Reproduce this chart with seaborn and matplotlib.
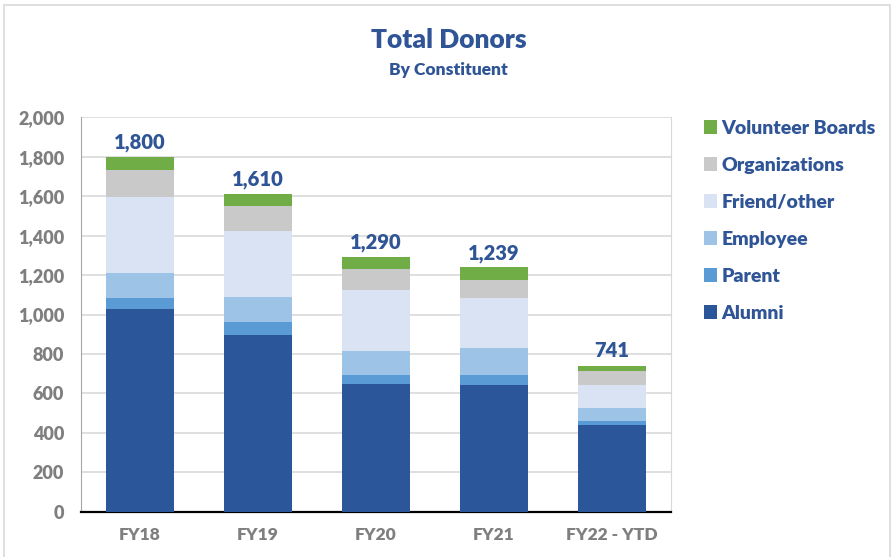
import pandas as pd
import matplotlib.pyplot as plt
import seaborn as sns
from matplotlib.patches import Rectangle, Patch

# Data
years = ['FY18', 'FY19', 'FY20', 'FY21', 'FY22 - YTD']
alumni = [1030, 896, 649, 644, 440]
parent = [55, 64, 42, 51, 20]
employee = [125, 130, 126, 135, 64]
friend_other = [385, 335, 307, 255, 120]
organizations = [140, 125, 105, 90, 72]
volunteer_boards = [65, 60, 61, 64, 25]
totals = [1800, 1610, 1290, 1239, 741]

groups = ['Alumni', 'Parent', 'Employee', 'Friend/other', 'Organizations', 'Volunteer Boards']
colors = ['#2B579A', '#5B9BD5', '#9DC3E6', '#DAE3F3', '#C9C9C9', '#70AD47']

df = pd.DataFrame({'year': years, 'Alumni': alumni, 'Parent': parent,
                   'Employee': employee, 'Friend/other': friend_other,
                   'Organizations': organizations, 'Volunteer Boards': volunteer_boards})
cum = df[groups].cumsum(axis=1)
cum['year'] = years

sns.set_style('white')
plt.rcParams['font.family'] = ['Lato', 'DejaVu Sans']
plt.rcParams['font.weight'] = 'bold'

blue = '#2F5597'
gray = '#7F7F7F'
W = 'heavy'

fig = plt.figure(figsize=(8.92, 5.57), dpi=100)
ax = fig.add_axes([81 / 892, 1 - 511.7 / 557, (671 - 81) / 892, (511.7 - 117.3) / 557])

# stacked bars: draw cumulative heights from the top layer down
for g, c in zip(groups[::-1], colors[::-1]):
    sns.barplot(data=cum, x='year', y=g, color=c, width=0.57, saturation=1,
                edgecolor='none', ax=ax, zorder=3)

ax.set_ylim(0, 2000)
ax.set_yticks(range(0, 2001, 200))
ax.set_yticklabels([f'{v:,}' for v in range(0, 2001, 200)], fontweight=W)
ax.set_xticks(range(len(years)))
ax.set_xticklabels(years, fontweight=W)
ax.set_xlabel('')
ax.set_ylabel('')
ax.grid(axis='y', color='#D9D9D9', linewidth=1.2, zorder=0)
ax.set_axisbelow(True)

ax.spines['top'].set_visible(False)
ax.spines['left'].set_color('#A6A6A6')
ax.spines['right'].set_color('#D9D9D9')
ax.spines['bottom'].set_color('black')
ax.spines['bottom'].set_linewidth(1.6)
ax.tick_params(axis='y', length=5, color='#A6A6A6', labelsize=13, labelcolor=gray, pad=7)
ax.tick_params(axis='x', length=0, labelsize=12.5, labelcolor=gray, pad=11)

for i, t in enumerate(totals):
    ax.annotate(f'{t:,}', (i, t), xytext=(0, 6), textcoords='offset points',
                ha='center', va='baseline', fontsize=14.5, fontweight=W, color=blue)

fig.text(0.503, 1 - 40 / 557, 'Total Donors', ha='center', va='center',
         fontsize=19, fontweight=W, color=blue)
fig.text(0.503, 1 - 70 / 557, 'By Constituent', ha='center', va='center',
         fontsize=12.5, fontweight=W, color=blue)

handles = [Patch(facecolor=c, edgecolor='none') for c in colors[::-1]]
fig.legend(handles, groups[::-1], loc='upper left', bbox_to_anchor=(686 / 892, 1 - 102 / 557),
           frameon=False, labelcolor=blue, handlelength=0.7, handleheight=0.7,
           handletextpad=0.22, labelspacing=1.03, prop={'weight': W, 'size': 14})

# outer chart border
fig.patches.append(Rectangle((4 / 892, -0.01), 886 / 892, 1 - 5 / 557 + 0.01,
                             transform=fig.transFigure, fill=False,
                             edgecolor='#D9D9D9', linewidth=1.2))

fig.savefig('out.png', dpi=100)
